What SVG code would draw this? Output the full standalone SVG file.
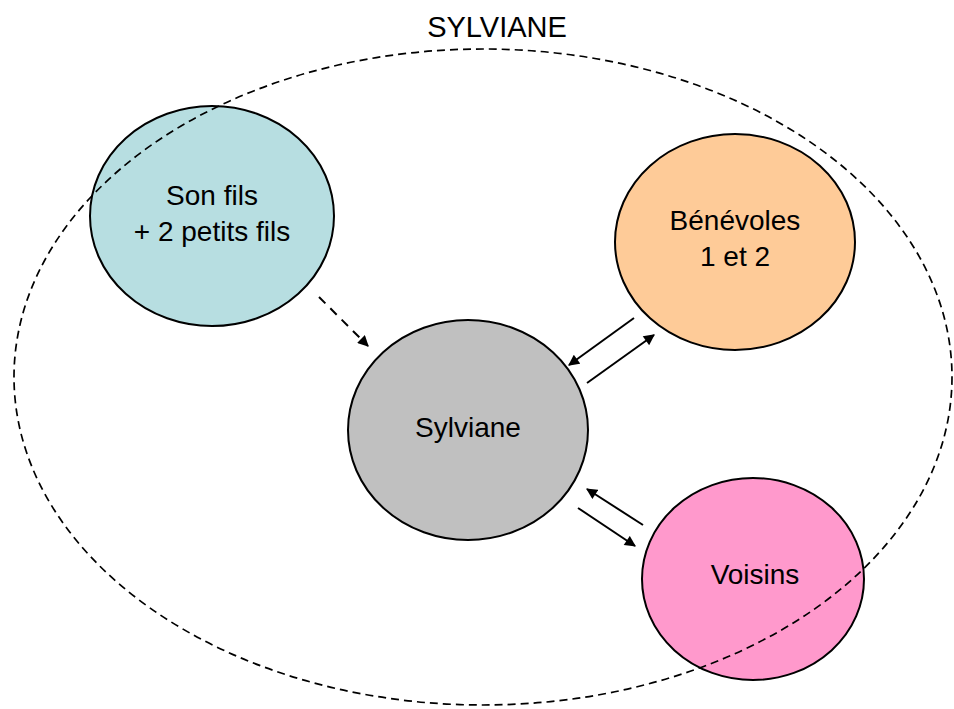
<svg xmlns="http://www.w3.org/2000/svg" width="954" height="709" viewBox="0 0 954 709">
  <style>
    text { font-family: "Liberation Sans", Arial, sans-serif; font-size: 28px; fill: #000; text-anchor: middle; }
    .node { stroke: #000; stroke-width: 2; }
    .conn { stroke: #000; stroke-width: 2; fill: none; }
    .dash { stroke-dasharray: 9 7; }
  </style>
  <defs>
    <marker id="arrow" viewBox="0 0 10 10" refX="9" refY="5" markerWidth="6" markerHeight="5.5" orient="auto" markerUnits="strokeWidth">
      <path d="M0,0 L10,5 L0,10 z" fill="#000"/>
    </marker>
  </defs>
  <rect width="954" height="709" fill="#fff"/>

  <g id="son-fils">
    <ellipse class="node" cx="212" cy="216" rx="122" ry="110" fill="#B7DEE1"/>
    <text x="212" y="205">Son fils</text>
    <text x="212" y="241">+ 2 petits fils</text>
  </g>

  <g id="benevoles">
    <ellipse class="node" cx="735" cy="242" rx="120" ry="108" fill="#FECB98"/>
    <text x="735" y="230">Bénévoles</text>
    <text x="735" y="266">1 et 2</text>
  </g>

  <g id="sylviane">
    <ellipse class="node" cx="468" cy="430" rx="120" ry="110" fill="#C0C0C0"/>
    <text x="468" y="437">Sylviane</text>
  </g>

  <g id="voisins">
    <ellipse class="node" cx="753" cy="579" rx="111" ry="101" fill="#FF99CC"/>
    <text x="755" y="584">Voisins</text>
  </g>

  <!-- dashed boundary drawn over the circles -->
  <g id="boundary">
    <ellipse cx="483" cy="377" rx="469" ry="328" fill="none" stroke="#000" stroke-width="1.7" stroke-dasharray="8 5"/>
    <text x="497" y="37" style="font-size:29px">SYLVIANE</text>
  </g>

  <g id="connectors">
    <line class="conn dash" x1="319" y1="297" x2="368" y2="346" marker-end="url(#arrow)"/>
    <line class="conn" x1="634" y1="318" x2="569" y2="365" marker-end="url(#arrow)"/>
    <line class="conn" x1="587" y1="383" x2="654" y2="335" marker-end="url(#arrow)"/>
    <line class="conn" x1="643" y1="525" x2="587" y2="489" marker-end="url(#arrow)"/>
    <line class="conn" x1="578" y1="508" x2="635" y2="546" marker-end="url(#arrow)"/>
  </g>
</svg>
